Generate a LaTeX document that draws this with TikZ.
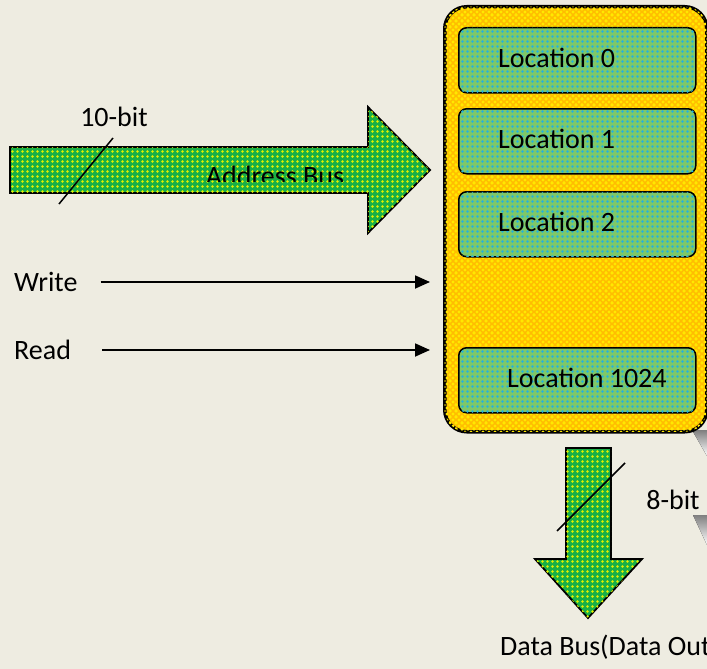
\documentclass[tikz,border=0pt]{standalone}
\usepackage{fontspec}
\setmainfont{Carlito}
\usetikzlibrary{arrows.meta,patterns}

\definecolor{paper}{RGB}{238,236,225}
\definecolor{busgreen}{RGB}{25,175,70}
\definecolor{busdot}{RGB}{225,240,0}
\definecolor{memgold}{RGB}{255,190,0}
\definecolor{memdot}{RGB}{255,232,0}
\definecolor{locgreen}{RGB}{125,200,105}
\definecolor{locdot}{RGB}{40,180,215}
\definecolor{shade}{RGB}{175,175,175}

\pgfdeclarepatternformonly{bigdots}{\pgfpoint{-1pt}{-1pt}}{\pgfpoint{6pt}{6pt}}{\pgfpoint{5pt}{5pt}}%
  {\pgfpathcircle{\pgfpoint{2.5pt}{2.5pt}}{1.4pt}\pgfusepath{fill}}
\pgfdeclarepatternformonly{diadots}{\pgfpoint{-1pt}{-1pt}}{\pgfpoint{7pt}{7pt}}{\pgfpoint{6pt}{6pt}}%
  {\pgfpathcircle{\pgfpoint{0pt}{0pt}}{1.6pt}\pgfpathcircle{\pgfpoint{3pt}{3pt}}{1.6pt}\pgfpathcircle{\pgfpoint{6pt}{6pt}}{1.6pt}\pgfpathcircle{\pgfpoint{0pt}{6pt}}{1.6pt}\pgfpathcircle{\pgfpoint{6pt}{0pt}}{1.6pt}\pgfusepath{fill}}

\begin{document}
\begin{tikzpicture}[
    x = 1pt,
    y = -1pt,
    every node/.style = {font=\fontsize{28}{33}\selectfont, inner sep=0pt},
    bus/.style = {draw=black, line width=1.8pt, line join=miter, fill=busgreen,
              postaction={pattern=bigdots, pattern color=busdot}},
    cell/.style = {draw=black, line width=1.5pt, rounded corners=8pt,
              fill=locgreen, postaction={pattern=bigdots, pattern color=locdot},
              minimum width=237pt, minimum height=65pt, anchor=north west},
    sig/.style = {-{Triangle[length=15pt,width=13pt]}, line width=1.8pt},
    slash/.style = {line width=1.5pt},
    ]

\fill[paper] (0,0) rectangle (707,669);
\useasboundingbox (0,0) rectangle (707,669);

% grey shape behind the memory
\fill[shade] (692,430) -- (707,430) -- (707,456) -- cycle;
\fill[shade] (693,515) -- (707,515) -- (707,545) -- cycle;

% memory
\node[draw, line width=3.5pt, rounded corners=22pt, fill=memgold,
      postaction={pattern=diadots, pattern color=memdot},
      minimum width=262pt, minimum height=425pt, anchor=north west]
      (mem) at (443,5) {};
\node[cell] (loc0) at (458,27) {};
\node[cell] (loc1) at (458,108) {};
\node[cell] (loc2) at (458,191) {};
\node[cell] (loc1024) at (458,347) {};
\node[anchor=west] at ([xshift=40pt, yshift=2pt]loc0.west) {Location 0};
\node[anchor=west] at ([xshift=40pt, yshift=2pt]loc1.west) {Location 1};
\node[anchor=west] at ([xshift=40pt, yshift=2pt]loc2.west) {Location 2};
\node[anchor=west] at ([xshift=49pt, yshift=2pt]loc1024.west) {Location 1024};

% address bus
\draw[bus] (10,147) -- (368,147) -- (368,107) -- (430,170) -- (368,233)
           -- (368,193) -- (10,193) -- cycle;
\begin{scope}
\clip (0,0) rectangle (707,181.5);
\node (addr) at (275,176) {Address Bus};
\end{scope}
\draw[slash] (113,138) -- (59,204);
\node (bits10) at (114,117) {10-bit};

% control lines
\node[anchor=west] (write) at (14,282) {Write};
\node[anchor=west] (read) at (14,350) {Read};
\draw[sig] ([xshift=23pt]write.east) -- ([xshift=-13pt]write.east -| mem.west);
\draw[sig] ([xshift=31pt]read.east) -- ([xshift=-13pt]read.east -| mem.west);

% data bus
\draw[bus] (566,448) -- (611,448) -- (611,559) -- (642,559) -- (588,618)
           -- (535,559) -- (566,559) -- cycle;
\draw[slash] (625,463) -- (557,531);
\node (bits8) at (673,500) {8-bit};
\node[anchor=west] (dout) at (500,647) {Data Bus(Data Out)};

\end{tikzpicture}
\end{document}
